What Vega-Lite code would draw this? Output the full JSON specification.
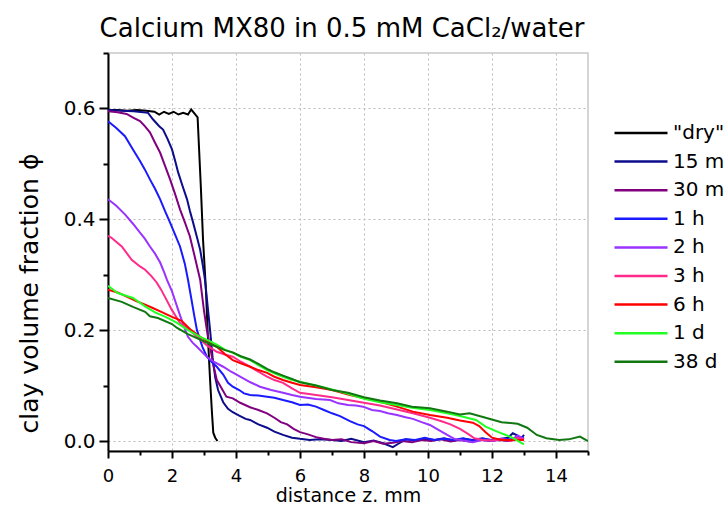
{
  "$schema": "https://vega.github.io/schema/vega-lite/v6.json",
  "width": 480,
  "height": 398,
  "autosize": {"type": "none"},
  "padding": {"left": 108, "top": 53, "right": 137, "bottom": 55},
  "background": "white",
  "config": {
    "font": "DejaVu Sans",
    "view": {"stroke": "#c8c8c8", "strokeWidth": 1.5}
  },
  "title": {"text": "Calcium MX80 in 0.5 mM CaCl₂/water", "fontSize": 26, "fontWeight": "normal", "color": "black", "offset": 10, "anchor": "middle", "dx": -6},
  "datasets": {
    "curves": [
      {"s": "\"dry\"", "x": 0, "y": 0.597}, {"s": "\"dry\"", "x": 0.3, "y": 0.597}, {"s": "\"dry\"", "x": 0.6, "y": 0.596}, {"s": "\"dry\"", "x": 0.9, "y": 0.597}, {"s": "\"dry\"", "x": 1.2, "y": 0.596}, {"s": "\"dry\"", "x": 1.45, "y": 0.594}, {"s": "\"dry\"", "x": 1.6, "y": 0.589}, {"s": "\"dry\"", "x": 1.75, "y": 0.594}, {"s": "\"dry\"", "x": 1.9, "y": 0.59}, {"s": "\"dry\"", "x": 2.05, "y": 0.594}, {"s": "\"dry\"", "x": 2.2, "y": 0.589}, {"s": "\"dry\"", "x": 2.35, "y": 0.592}, {"s": "\"dry\"", "x": 2.5, "y": 0.589}, {"s": "\"dry\"", "x": 2.6, "y": 0.598}, {"s": "\"dry\"", "x": 2.7, "y": 0.591}, {"s": "\"dry\"", "x": 2.8, "y": 0.584}, {"s": "\"dry\"", "x": 2.9, "y": 0.46}, {"s": "\"dry\"", "x": 2.97, "y": 0.363}, {"s": "\"dry\"", "x": 3.06, "y": 0.273}, {"s": "\"dry\"", "x": 3.12, "y": 0.19}, {"s": "\"dry\"", "x": 3.19, "y": 0.11}, {"s": "\"dry\"", "x": 3.25, "y": 0.05}, {"s": "\"dry\"", "x": 3.29, "y": 0.015}, {"s": "\"dry\"", "x": 3.35, "y": 0.006}, {"s": "\"dry\"", "x": 3.42, "y": 0.0},

      {"s": "15 min", "x": 0, "y": 0.597}, {"s": "15 min", "x": 0.4, "y": 0.596}, {"s": "15 min", "x": 0.8, "y": 0.595}, {"s": "15 min", "x": 1.1, "y": 0.593}, {"s": "15 min", "x": 1.25, "y": 0.592}, {"s": "15 min", "x": 1.41, "y": 0.58}, {"s": "15 min", "x": 1.6, "y": 0.568}, {"s": "15 min", "x": 1.72, "y": 0.562}, {"s": "15 min", "x": 1.86, "y": 0.545}, {"s": "15 min", "x": 2.0, "y": 0.526}, {"s": "15 min", "x": 2.1, "y": 0.505}, {"s": "15 min", "x": 2.19, "y": 0.485}, {"s": "15 min", "x": 2.33, "y": 0.46}, {"s": "15 min", "x": 2.47, "y": 0.436}, {"s": "15 min", "x": 2.56, "y": 0.415}, {"s": "15 min", "x": 2.66, "y": 0.394}, {"s": "15 min", "x": 2.77, "y": 0.37}, {"s": "15 min", "x": 2.88, "y": 0.345}, {"s": "15 min", "x": 2.96, "y": 0.318}, {"s": "15 min", "x": 3.03, "y": 0.291}, {"s": "15 min", "x": 3.12, "y": 0.24}, {"s": "15 min", "x": 3.19, "y": 0.2}, {"s": "15 min", "x": 3.27, "y": 0.15}, {"s": "15 min", "x": 3.35, "y": 0.115}, {"s": "15 min", "x": 3.44, "y": 0.092}, {"s": "15 min", "x": 3.6, "y": 0.07}, {"s": "15 min", "x": 3.75, "y": 0.058}, {"s": "15 min", "x": 3.9, "y": 0.052}, {"s": "15 min", "x": 4.1, "y": 0.046}, {"s": "15 min", "x": 4.3, "y": 0.04}, {"s": "15 min", "x": 4.44, "y": 0.038}, {"s": "15 min", "x": 4.7, "y": 0.03}, {"s": "15 min", "x": 4.97, "y": 0.024}, {"s": "15 min", "x": 5.2, "y": 0.017}, {"s": "15 min", "x": 5.47, "y": 0.011}, {"s": "15 min", "x": 5.75, "y": 0.006}, {"s": "15 min", "x": 6.0, "y": 0.004}, {"s": "15 min", "x": 6.3, "y": 0.002}, {"s": "15 min", "x": 6.6, "y": 0.003}, {"s": "15 min", "x": 7.0, "y": 0.002}, {"s": "15 min", "x": 7.3, "y": 0.0}, {"s": "15 min", "x": 7.6, "y": 0.004}, {"s": "15 min", "x": 8.0, "y": -0.002}, {"s": "15 min", "x": 8.3, "y": 0.001}, {"s": "15 min", "x": 8.6, "y": -0.004}, {"s": "15 min", "x": 8.9, "y": -0.011}, {"s": "15 min", "x": 9.1, "y": -0.004}, {"s": "15 min", "x": 9.3, "y": 0.003}, {"s": "15 min", "x": 9.6, "y": 0.001}, {"s": "15 min", "x": 9.9, "y": 0.004}, {"s": "15 min", "x": 10.2, "y": 0.002}, {"s": "15 min", "x": 10.5, "y": 0.005}, {"s": "15 min", "x": 10.8, "y": 0.001}, {"s": "15 min", "x": 11.1, "y": 0.004}, {"s": "15 min", "x": 11.4, "y": 0.002}, {"s": "15 min", "x": 11.7, "y": 0.005}, {"s": "15 min", "x": 12.0, "y": 0.001}, {"s": "15 min", "x": 12.3, "y": 0.004}, {"s": "15 min", "x": 12.5, "y": 0.006}, {"s": "15 min", "x": 12.65, "y": 0.014}, {"s": "15 min", "x": 12.8, "y": 0.01}, {"s": "15 min", "x": 12.9, "y": 0.004}, {"s": "15 min", "x": 13.0, "y": 0.011},

      {"s": "30 min", "x": 0, "y": 0.595}, {"s": "30 min", "x": 0.3, "y": 0.593}, {"s": "30 min", "x": 0.58, "y": 0.59}, {"s": "30 min", "x": 0.8, "y": 0.583}, {"s": "30 min", "x": 1.0, "y": 0.577}, {"s": "30 min", "x": 1.15, "y": 0.568}, {"s": "30 min", "x": 1.31, "y": 0.557}, {"s": "30 min", "x": 1.47, "y": 0.538}, {"s": "30 min", "x": 1.63, "y": 0.52}, {"s": "30 min", "x": 1.78, "y": 0.497}, {"s": "30 min", "x": 1.94, "y": 0.472}, {"s": "30 min", "x": 2.1, "y": 0.445}, {"s": "30 min", "x": 2.25, "y": 0.418}, {"s": "30 min", "x": 2.4, "y": 0.395}, {"s": "30 min", "x": 2.56, "y": 0.369}, {"s": "30 min", "x": 2.7, "y": 0.335}, {"s": "30 min", "x": 2.88, "y": 0.291}, {"s": "30 min", "x": 3.0, "y": 0.235}, {"s": "30 min", "x": 3.09, "y": 0.2}, {"s": "30 min", "x": 3.19, "y": 0.17}, {"s": "30 min", "x": 3.3, "y": 0.135}, {"s": "30 min", "x": 3.4, "y": 0.11}, {"s": "30 min", "x": 3.5, "y": 0.1}, {"s": "30 min", "x": 3.7, "y": 0.08}, {"s": "30 min", "x": 3.9, "y": 0.077}, {"s": "30 min", "x": 4.13, "y": 0.069}, {"s": "30 min", "x": 4.44, "y": 0.061}, {"s": "30 min", "x": 4.7, "y": 0.056}, {"s": "30 min", "x": 4.97, "y": 0.05}, {"s": "30 min", "x": 5.2, "y": 0.042}, {"s": "30 min", "x": 5.4, "y": 0.034}, {"s": "30 min", "x": 5.6, "y": 0.03}, {"s": "30 min", "x": 5.8, "y": 0.022}, {"s": "30 min", "x": 6.0, "y": 0.016}, {"s": "30 min", "x": 6.25, "y": 0.012}, {"s": "30 min", "x": 6.5, "y": 0.007}, {"s": "30 min", "x": 6.75, "y": 0.004}, {"s": "30 min", "x": 7.0, "y": 0.002}, {"s": "30 min", "x": 7.3, "y": 0.003}, {"s": "30 min", "x": 7.6, "y": -0.002}, {"s": "30 min", "x": 8.0, "y": -0.004}, {"s": "30 min", "x": 8.3, "y": 0.0}, {"s": "30 min", "x": 8.6, "y": -0.005}, {"s": "30 min", "x": 8.9, "y": -0.003}, {"s": "30 min", "x": 9.2, "y": 0.0}, {"s": "30 min", "x": 9.5, "y": -0.002}, {"s": "30 min", "x": 9.8, "y": 0.002}, {"s": "30 min", "x": 10.1, "y": 0.0}, {"s": "30 min", "x": 10.4, "y": 0.003}, {"s": "30 min", "x": 10.7, "y": -0.001}, {"s": "30 min", "x": 11.0, "y": 0.002}, {"s": "30 min", "x": 11.3, "y": -0.001}, {"s": "30 min", "x": 11.6, "y": 0.003}, {"s": "30 min", "x": 11.9, "y": 0.0}, {"s": "30 min", "x": 12.2, "y": 0.002}, {"s": "30 min", "x": 12.5, "y": 0.0}, {"s": "30 min", "x": 12.8, "y": 0.003}, {"s": "30 min", "x": 13.0, "y": 0.005},

      {"s": "1 h", "x": 0, "y": 0.577}, {"s": "1 h", "x": 0.25, "y": 0.565}, {"s": "1 h", "x": 0.53, "y": 0.55}, {"s": "1 h", "x": 0.78, "y": 0.526}, {"s": "1 h", "x": 1.0, "y": 0.505}, {"s": "1 h", "x": 1.15, "y": 0.49}, {"s": "1 h", "x": 1.31, "y": 0.472}, {"s": "1 h", "x": 1.47, "y": 0.455}, {"s": "1 h", "x": 1.63, "y": 0.436}, {"s": "1 h", "x": 1.78, "y": 0.415}, {"s": "1 h", "x": 1.94, "y": 0.394}, {"s": "1 h", "x": 2.1, "y": 0.372}, {"s": "1 h", "x": 2.25, "y": 0.351}, {"s": "1 h", "x": 2.4, "y": 0.32}, {"s": "1 h", "x": 2.5, "y": 0.291}, {"s": "1 h", "x": 2.6, "y": 0.258}, {"s": "1 h", "x": 2.7, "y": 0.225}, {"s": "1 h", "x": 2.78, "y": 0.2}, {"s": "1 h", "x": 2.95, "y": 0.17}, {"s": "1 h", "x": 3.09, "y": 0.152}, {"s": "1 h", "x": 3.25, "y": 0.142}, {"s": "1 h", "x": 3.4, "y": 0.134}, {"s": "1 h", "x": 3.6, "y": 0.12}, {"s": "1 h", "x": 3.75, "y": 0.105}, {"s": "1 h", "x": 3.9, "y": 0.098}, {"s": "1 h", "x": 4.1, "y": 0.092}, {"s": "1 h", "x": 4.25, "y": 0.086}, {"s": "1 h", "x": 4.44, "y": 0.083}, {"s": "1 h", "x": 4.7, "y": 0.082}, {"s": "1 h", "x": 4.97, "y": 0.08}, {"s": "1 h", "x": 5.2, "y": 0.078}, {"s": "1 h", "x": 5.47, "y": 0.074}, {"s": "1 h", "x": 5.75, "y": 0.07}, {"s": "1 h", "x": 6.0, "y": 0.065}, {"s": "1 h", "x": 6.25, "y": 0.066}, {"s": "1 h", "x": 6.5, "y": 0.062}, {"s": "1 h", "x": 6.75, "y": 0.056}, {"s": "1 h", "x": 7.0, "y": 0.05}, {"s": "1 h", "x": 7.25, "y": 0.045}, {"s": "1 h", "x": 7.56, "y": 0.036}, {"s": "1 h", "x": 7.8, "y": 0.03}, {"s": "1 h", "x": 8.0, "y": 0.027}, {"s": "1 h", "x": 8.25, "y": 0.018}, {"s": "1 h", "x": 8.5, "y": 0.008}, {"s": "1 h", "x": 8.8, "y": 0.002}, {"s": "1 h", "x": 9.0, "y": 0.0}, {"s": "1 h", "x": 9.3, "y": 0.003}, {"s": "1 h", "x": 9.6, "y": 0.002}, {"s": "1 h", "x": 9.9, "y": 0.006}, {"s": "1 h", "x": 10.2, "y": 0.002}, {"s": "1 h", "x": 10.5, "y": 0.004}, {"s": "1 h", "x": 10.8, "y": 0.002}, {"s": "1 h", "x": 11.1, "y": 0.005}, {"s": "1 h", "x": 11.4, "y": 0.001}, {"s": "1 h", "x": 11.7, "y": 0.004}, {"s": "1 h", "x": 12.0, "y": 0.002}, {"s": "1 h", "x": 12.3, "y": 0.004}, {"s": "1 h", "x": 12.6, "y": 0.003}, {"s": "1 h", "x": 12.8, "y": 0.008}, {"s": "1 h", "x": 13.0, "y": 0.006},

      {"s": "2 h", "x": 0, "y": 0.436}, {"s": "2 h", "x": 0.25, "y": 0.425}, {"s": "2 h", "x": 0.53, "y": 0.409}, {"s": "2 h", "x": 0.78, "y": 0.392}, {"s": "2 h", "x": 1.0, "y": 0.376}, {"s": "2 h", "x": 1.15, "y": 0.365}, {"s": "2 h", "x": 1.31, "y": 0.351}, {"s": "2 h", "x": 1.47, "y": 0.338}, {"s": "2 h", "x": 1.63, "y": 0.322}, {"s": "2 h", "x": 1.75, "y": 0.305}, {"s": "2 h", "x": 1.84, "y": 0.291}, {"s": "2 h", "x": 2.0, "y": 0.27}, {"s": "2 h", "x": 2.19, "y": 0.237}, {"s": "2 h", "x": 2.35, "y": 0.21}, {"s": "2 h", "x": 2.5, "y": 0.188}, {"s": "2 h", "x": 2.65, "y": 0.177}, {"s": "2 h", "x": 2.78, "y": 0.17}, {"s": "2 h", "x": 2.95, "y": 0.16}, {"s": "2 h", "x": 3.09, "y": 0.152}, {"s": "2 h", "x": 3.3, "y": 0.143}, {"s": "2 h", "x": 3.6, "y": 0.134}, {"s": "2 h", "x": 3.85, "y": 0.125}, {"s": "2 h", "x": 4.13, "y": 0.116}, {"s": "2 h", "x": 4.45, "y": 0.106}, {"s": "2 h", "x": 4.75, "y": 0.098}, {"s": "2 h", "x": 5.1, "y": 0.092}, {"s": "2 h", "x": 5.47, "y": 0.087}, {"s": "2 h", "x": 5.75, "y": 0.083}, {"s": "2 h", "x": 6.0, "y": 0.08}, {"s": "2 h", "x": 6.5, "y": 0.076}, {"s": "2 h", "x": 6.94, "y": 0.074}, {"s": "2 h", "x": 7.2, "y": 0.068}, {"s": "2 h", "x": 7.5, "y": 0.065}, {"s": "2 h", "x": 7.75, "y": 0.064}, {"s": "2 h", "x": 7.97, "y": 0.062}, {"s": "2 h", "x": 8.25, "y": 0.056}, {"s": "2 h", "x": 8.5, "y": 0.054}, {"s": "2 h", "x": 8.75, "y": 0.05}, {"s": "2 h", "x": 9.03, "y": 0.047}, {"s": "2 h", "x": 9.3, "y": 0.043}, {"s": "2 h", "x": 9.53, "y": 0.04}, {"s": "2 h", "x": 9.8, "y": 0.034}, {"s": "2 h", "x": 10.06, "y": 0.029}, {"s": "2 h", "x": 10.3, "y": 0.021}, {"s": "2 h", "x": 10.6, "y": 0.011}, {"s": "2 h", "x": 10.85, "y": 0.003}, {"s": "2 h", "x": 11.1, "y": 0.001}, {"s": "2 h", "x": 11.4, "y": -0.002}, {"s": "2 h", "x": 11.7, "y": 0.002}, {"s": "2 h", "x": 12.0, "y": 0.0}, {"s": "2 h", "x": 12.3, "y": 0.003}, {"s": "2 h", "x": 12.6, "y": 0.001}, {"s": "2 h", "x": 12.8, "y": 0.01}, {"s": "2 h", "x": 13.0, "y": 0.004},

      {"s": "3 h", "x": 0, "y": 0.37}, {"s": "3 h", "x": 0.1, "y": 0.367}, {"s": "3 h", "x": 0.43, "y": 0.351}, {"s": "3 h", "x": 0.74, "y": 0.327}, {"s": "3 h", "x": 1.0, "y": 0.315}, {"s": "3 h", "x": 1.16, "y": 0.309}, {"s": "3 h", "x": 1.35, "y": 0.298}, {"s": "3 h", "x": 1.52, "y": 0.286}, {"s": "3 h", "x": 1.65, "y": 0.274}, {"s": "3 h", "x": 1.78, "y": 0.26}, {"s": "3 h", "x": 1.99, "y": 0.237}, {"s": "3 h", "x": 2.12, "y": 0.225}, {"s": "3 h", "x": 2.25, "y": 0.213}, {"s": "3 h", "x": 2.45, "y": 0.205}, {"s": "3 h", "x": 2.65, "y": 0.195}, {"s": "3 h", "x": 2.88, "y": 0.183}, {"s": "3 h", "x": 3.1, "y": 0.172}, {"s": "3 h", "x": 3.4, "y": 0.161}, {"s": "3 h", "x": 3.65, "y": 0.156}, {"s": "3 h", "x": 3.9, "y": 0.152}, {"s": "3 h", "x": 4.15, "y": 0.143}, {"s": "3 h", "x": 4.44, "y": 0.134}, {"s": "3 h", "x": 4.7, "y": 0.125}, {"s": "3 h", "x": 4.97, "y": 0.116}, {"s": "3 h", "x": 5.2, "y": 0.11}, {"s": "3 h", "x": 5.47, "y": 0.105}, {"s": "3 h", "x": 5.75, "y": 0.095}, {"s": "3 h", "x": 6.0, "y": 0.087}, {"s": "3 h", "x": 6.5, "y": 0.083}, {"s": "3 h", "x": 7.0, "y": 0.079}, {"s": "3 h", "x": 7.5, "y": 0.074}, {"s": "3 h", "x": 8.0, "y": 0.069}, {"s": "3 h", "x": 8.5, "y": 0.064}, {"s": "3 h", "x": 9.03, "y": 0.057}, {"s": "3 h", "x": 9.53, "y": 0.05}, {"s": "3 h", "x": 10.06, "y": 0.042}, {"s": "3 h", "x": 10.4, "y": 0.036}, {"s": "3 h", "x": 10.7, "y": 0.03}, {"s": "3 h", "x": 11.0, "y": 0.022}, {"s": "3 h", "x": 11.25, "y": 0.013}, {"s": "3 h", "x": 11.45, "y": 0.005}, {"s": "3 h", "x": 11.7, "y": 0.002}, {"s": "3 h", "x": 12.0, "y": 0.001}, {"s": "3 h", "x": 12.3, "y": 0.003}, {"s": "3 h", "x": 12.6, "y": 0.0}, {"s": "3 h", "x": 12.8, "y": 0.006}, {"s": "3 h", "x": 13.0, "y": 0.003},

      {"s": "6 h", "x": 0, "y": 0.273}, {"s": "6 h", "x": 0.3, "y": 0.268}, {"s": "6 h", "x": 0.6, "y": 0.26}, {"s": "6 h", "x": 0.9, "y": 0.252}, {"s": "6 h", "x": 1.16, "y": 0.246}, {"s": "6 h", "x": 1.4, "y": 0.24}, {"s": "6 h", "x": 1.7, "y": 0.232}, {"s": "6 h", "x": 2.0, "y": 0.224}, {"s": "6 h", "x": 2.3, "y": 0.217}, {"s": "6 h", "x": 2.6, "y": 0.2}, {"s": "6 h", "x": 2.88, "y": 0.188}, {"s": "6 h", "x": 3.15, "y": 0.178}, {"s": "6 h", "x": 3.4, "y": 0.17}, {"s": "6 h", "x": 3.65, "y": 0.157}, {"s": "6 h", "x": 3.9, "y": 0.146}, {"s": "6 h", "x": 4.15, "y": 0.14}, {"s": "6 h", "x": 4.44, "y": 0.134}, {"s": "6 h", "x": 4.7, "y": 0.128}, {"s": "6 h", "x": 4.97, "y": 0.123}, {"s": "6 h", "x": 5.2, "y": 0.116}, {"s": "6 h", "x": 5.47, "y": 0.11}, {"s": "6 h", "x": 5.75, "y": 0.105}, {"s": "6 h", "x": 6.0, "y": 0.101}, {"s": "6 h", "x": 6.5, "y": 0.097}, {"s": "6 h", "x": 7.0, "y": 0.092}, {"s": "6 h", "x": 7.5, "y": 0.084}, {"s": "6 h", "x": 8.0, "y": 0.077}, {"s": "6 h", "x": 8.5, "y": 0.071}, {"s": "6 h", "x": 9.03, "y": 0.062}, {"s": "6 h", "x": 9.53, "y": 0.053}, {"s": "6 h", "x": 10.06, "y": 0.047}, {"s": "6 h", "x": 10.6, "y": 0.042}, {"s": "6 h", "x": 11.0, "y": 0.037}, {"s": "6 h", "x": 11.4, "y": 0.033}, {"s": "6 h", "x": 11.6, "y": 0.027}, {"s": "6 h", "x": 11.8, "y": 0.016}, {"s": "6 h", "x": 12.0, "y": 0.006}, {"s": "6 h", "x": 12.3, "y": 0.002}, {"s": "6 h", "x": 12.6, "y": 0.002}, {"s": "6 h", "x": 13.0, "y": 0.002},

      {"s": "1 d", "x": 0, "y": 0.28}, {"s": "1 d", "x": 0.3, "y": 0.267}, {"s": "1 d", "x": 0.78, "y": 0.258}, {"s": "1 d", "x": 1.16, "y": 0.243}, {"s": "1 d", "x": 1.47, "y": 0.232}, {"s": "1 d", "x": 1.8, "y": 0.224}, {"s": "1 d", "x": 2.16, "y": 0.213}, {"s": "1 d", "x": 2.5, "y": 0.2}, {"s": "1 d", "x": 2.88, "y": 0.188}, {"s": "1 d", "x": 3.15, "y": 0.181}, {"s": "1 d", "x": 3.4, "y": 0.174}, {"s": "1 d", "x": 3.65, "y": 0.165}, {"s": "1 d", "x": 3.9, "y": 0.159}, {"s": "1 d", "x": 4.15, "y": 0.152}, {"s": "1 d", "x": 4.44, "y": 0.146}, {"s": "1 d", "x": 4.7, "y": 0.137}, {"s": "1 d", "x": 4.97, "y": 0.128}, {"s": "1 d", "x": 5.2, "y": 0.122}, {"s": "1 d", "x": 5.47, "y": 0.116}, {"s": "1 d", "x": 5.75, "y": 0.11}, {"s": "1 d", "x": 6.0, "y": 0.107}, {"s": "1 d", "x": 6.5, "y": 0.1}, {"s": "1 d", "x": 7.0, "y": 0.093}, {"s": "1 d", "x": 7.5, "y": 0.085}, {"s": "1 d", "x": 8.0, "y": 0.076}, {"s": "1 d", "x": 8.5, "y": 0.07}, {"s": "1 d", "x": 9.03, "y": 0.065}, {"s": "1 d", "x": 9.5, "y": 0.06}, {"s": "1 d", "x": 10.06, "y": 0.056}, {"s": "1 d", "x": 10.6, "y": 0.05}, {"s": "1 d", "x": 11.0, "y": 0.045}, {"s": "1 d", "x": 11.5, "y": 0.038}, {"s": "1 d", "x": 11.8, "y": 0.026}, {"s": "1 d", "x": 12.2, "y": 0.016}, {"s": "1 d", "x": 12.6, "y": 0.007}, {"s": "1 d", "x": 13.0, "y": -0.006},

      {"s": "38 d", "x": 0, "y": 0.258}, {"s": "38 d", "x": 0.43, "y": 0.251}, {"s": "38 d", "x": 0.78, "y": 0.242}, {"s": "38 d", "x": 1.16, "y": 0.233}, {"s": "38 d", "x": 1.31, "y": 0.225}, {"s": "38 d", "x": 1.56, "y": 0.222}, {"s": "38 d", "x": 2.0, "y": 0.211}, {"s": "38 d", "x": 2.16, "y": 0.204}, {"s": "38 d", "x": 2.5, "y": 0.193}, {"s": "38 d", "x": 2.88, "y": 0.183}, {"s": "38 d", "x": 3.15, "y": 0.176}, {"s": "38 d", "x": 3.4, "y": 0.17}, {"s": "38 d", "x": 3.65, "y": 0.164}, {"s": "38 d", "x": 3.9, "y": 0.16}, {"s": "38 d", "x": 4.15, "y": 0.153}, {"s": "38 d", "x": 4.44, "y": 0.147}, {"s": "38 d", "x": 4.7, "y": 0.139}, {"s": "38 d", "x": 4.97, "y": 0.13}, {"s": "38 d", "x": 5.2, "y": 0.124}, {"s": "38 d", "x": 5.47, "y": 0.118}, {"s": "38 d", "x": 5.75, "y": 0.112}, {"s": "38 d", "x": 6.0, "y": 0.106}, {"s": "38 d", "x": 6.5, "y": 0.1}, {"s": "38 d", "x": 7.0, "y": 0.092}, {"s": "38 d", "x": 7.5, "y": 0.087}, {"s": "38 d", "x": 8.0, "y": 0.079}, {"s": "38 d", "x": 8.5, "y": 0.073}, {"s": "38 d", "x": 9.03, "y": 0.068}, {"s": "38 d", "x": 9.5, "y": 0.062}, {"s": "38 d", "x": 10.06, "y": 0.059}, {"s": "38 d", "x": 10.6, "y": 0.053}, {"s": "38 d", "x": 11.0, "y": 0.048}, {"s": "38 d", "x": 11.3, "y": 0.05}, {"s": "38 d", "x": 11.8, "y": 0.042}, {"s": "38 d", "x": 12.3, "y": 0.034}, {"s": "38 d", "x": 12.8, "y": 0.031}, {"s": "38 d", "x": 13.1, "y": 0.024}, {"s": "38 d", "x": 13.4, "y": 0.011}, {"s": "38 d", "x": 13.7, "y": 0.005}, {"s": "38 d", "x": 14.1, "y": 0.002}, {"s": "38 d", "x": 14.4, "y": 0.003}, {"s": "38 d", "x": 14.75, "y": 0.008}, {"s": "38 d", "x": 15.0, "y": 0.0}
    ]
  },
  "data": {"name": "curves"},
  "mark": {"type": "line", "strokeWidth": 2, "clip": true},
  "encoding": {
    "x": {
      "field": "x", "type": "quantitative",
      "scale": {"domain": [0, 15], "nice": false, "zero": false},
      "axis": {
        "title": "distance z. mm",
        "values": [0, 1, 2, 3, 4, 5, 6, 7, 8, 9, 10, 11, 12, 13, 14, 15],
        "labelExpr": "datum.value % 2 === 0 ? datum.label : ''",
        "tickSize": {"condition": {"test": "datum.value % 2 === 0", "value": 7}, "value": 4},
        "gridOpacity": {"condition": {"test": "datum.value % 2 === 0 && datum.value > 0", "value": 1}, "value": 0},
        "grid": true, "gridDash": [2, 3], "gridColor": "#bbbbbb", "gridWidth": 1,
        "domainColor": "black", "domainWidth": 2, "tickColor": "black", "tickWidth": 2,
        "labelFontSize": 18, "labelColor": "black", "labelPadding": 9, "labelFlush": false,
        "titleFontSize": 19, "titleFontWeight": "normal", "titleColor": "black", "titlePadding": 1
      }
    },
    "y": {
      "field": "y", "type": "quantitative",
      "scale": {"domain": [-0.018, 0.7], "nice": false, "zero": false},
      "axis": {
        "title": "clay volume fraction ϕ",
        "values": [0, 0.1, 0.2, 0.3, 0.4, 0.5, 0.6, 0.7],
        "labelExpr": "round(datum.value * 10) % 2 === 0 ? format(datum.value, '.1f') : ''",
        "tickSize": {"condition": {"test": "round(datum.value * 10) % 2 === 0", "value": 9}, "value": 5},
        "gridOpacity": {"condition": {"test": "round(datum.value * 10) % 2 === 0", "value": 1}, "value": 0},
        "grid": true, "gridDash": [2, 3], "gridColor": "#bbbbbb", "gridWidth": 1,
        "domainColor": "black", "domainWidth": 2, "tickColor": "black", "tickWidth": 2,
        "labelFontSize": 20, "labelColor": "black", "labelPadding": 4, "labelFlush": false,
        "titleFontSize": 25, "titleFontWeight": "normal", "titleColor": "black", "titlePadding": 21, "titleY": 240
      }
    },
    "color": {
      "field": "s", "type": "nominal",
      "scale": {
        "domain": ["\"dry\"", "15 min", "30 min", "1 h", "2 h", "3 h", "6 h", "1 d", "38 d"],
        "range": ["#000000", "#0c0c8c", "#800080", "#1a1aff", "#9933ff", "#ff2a8a", "#ff0000", "#22ff22", "#117711"]
      },
      "legend": {
        "title": null, "orient": "none", "legendX": 505, "legendY": 70,
        "symbolType": "stroke", "symbolSize": 2809, "symbolStrokeWidth": 2.5,
        "clipHeight": 20, "rowPadding": 8.6, "padding": 0,
        "labelFontSize": 20, "labelColor": "black", "labelOffset": 4, "labelLimit": 0
      }
    }
  }
}
